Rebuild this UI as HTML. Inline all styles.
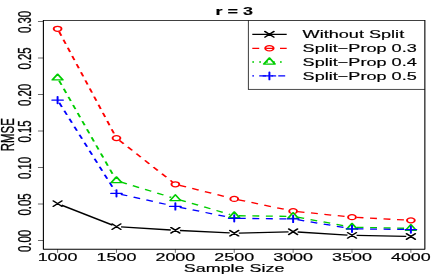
<!DOCTYPE html>
<html><head><meta charset="utf-8"><title>r = 3</title>
<style>
html,body{margin:0;padding:0;background:#fff;}
body{width:436px;height:277px;overflow:hidden;}
svg{display:block;}
text{font-family:"Liberation Sans",sans-serif;font-size:11.4px;fill:#000;stroke:#000;stroke-width:0.18px;}
</style></head><body>
<svg width="436" height="277" viewBox="0 0 436 277">
<defs><filter id="b" x="0" y="0" width="436" height="277" filterUnits="userSpaceOnUse"><feGaussianBlur stdDeviation="0.35"/></filter></defs>
<rect width="436" height="277" fill="#fff"/>
<g filter="url(#b)"><g transform="scale(1.57401,1)">
<line x1="39.07" y1="205.15" x2="71.53" y2="225.11" stroke="#000" stroke-width="1.3"/>
<line x1="76.89" y1="226.91" x2="108.52" y2="230.00" stroke="#000" stroke-width="1.3"/>
<line x1="114.30" y1="230.51" x2="145.93" y2="232.97" stroke="#000" stroke-width="1.3"/>
<line x1="151.72" y1="233.09" x2="183.33" y2="231.85" stroke="#000" stroke-width="1.3"/>
<line x1="189.11" y1="232.02" x2="220.75" y2="235.11" stroke="#000" stroke-width="1.3"/>
<line x1="226.53" y1="235.47" x2="258.14" y2="236.40" stroke="#000" stroke-width="1.3"/>
<path d="M33.86 200.90L39.33 206.37M33.86 206.37L39.33 200.90" stroke="#000" stroke-width="1.25" fill="none" stroke-linecap="round" stroke-linejoin="round"/>
<path d="M71.26 223.89L76.74 229.37M71.26 229.37L76.74 223.89" stroke="#000" stroke-width="1.25" fill="none" stroke-linecap="round" stroke-linejoin="round"/>
<path d="M108.67 227.54L114.15 233.02M108.67 233.02L114.15 227.54" stroke="#000" stroke-width="1.25" fill="none" stroke-linecap="round" stroke-linejoin="round"/>
<path d="M146.08 230.46L151.56 235.94M146.08 235.94L151.56 230.46" stroke="#000" stroke-width="1.25" fill="none" stroke-linecap="round" stroke-linejoin="round"/>
<path d="M183.49 229.00L188.96 234.48M183.49 234.48L188.96 229.00" stroke="#000" stroke-width="1.25" fill="none" stroke-linecap="round" stroke-linejoin="round"/>
<path d="M220.90 232.65L226.37 238.13M220.90 238.13L226.37 232.65" stroke="#000" stroke-width="1.25" fill="none" stroke-linecap="round" stroke-linejoin="round"/>
<path d="M258.30 233.75L263.78 239.22M258.30 239.22L263.78 233.75" stroke="#000" stroke-width="1.25" fill="none" stroke-linecap="round" stroke-linejoin="round"/>
<line x1="37.53" y1="31.54" x2="73.06" y2="135.34" stroke="#ff0000" stroke-width="1.3" stroke-dasharray="4.4 4.2"/>
<line x1="75.83" y1="140.34" x2="109.59" y2="182.04" stroke="#ff0000" stroke-width="1.3" stroke-dasharray="4.4 4.2"/>
<line x1="114.11" y1="185.34" x2="146.12" y2="197.84" stroke="#ff0000" stroke-width="1.3" stroke-dasharray="4.4 4.2"/>
<line x1="151.57" y1="199.79" x2="183.47" y2="210.25" stroke="#ff0000" stroke-width="1.3" stroke-dasharray="4.4 4.2"/>
<line x1="189.09" y1="211.61" x2="220.77" y2="216.68" stroke="#ff0000" stroke-width="1.3" stroke-dasharray="4.4 4.2"/>
<line x1="226.52" y1="217.39" x2="258.15" y2="220.10" stroke="#ff0000" stroke-width="1.3" stroke-dasharray="4.4 4.2"/>
<circle cx="36.59" cy="28.80" r="2.47" stroke="#ff0000" stroke-width="1.25" fill="none"/>
<circle cx="74.00" cy="138.08" r="2.47" stroke="#ff0000" stroke-width="1.25" fill="none"/>
<circle cx="111.41" cy="184.29" r="2.47" stroke="#ff0000" stroke-width="1.25" fill="none"/>
<circle cx="148.82" cy="198.89" r="2.47" stroke="#ff0000" stroke-width="1.25" fill="none"/>
<circle cx="186.23" cy="211.15" r="2.47" stroke="#ff0000" stroke-width="1.25" fill="none"/>
<circle cx="223.63" cy="217.14" r="2.47" stroke="#ff0000" stroke-width="1.25" fill="none"/>
<circle cx="261.04" cy="220.35" r="2.47" stroke="#ff0000" stroke-width="1.25" fill="none"/>
<line x1="37.59" y1="80.73" x2="73.01" y2="177.99" stroke="#00cd00" stroke-width="1.3" stroke-dasharray="4.4 4.2"/>
<line x1="76.62" y1="181.96" x2="108.79" y2="197.35" stroke="#00cd00" stroke-width="1.3" stroke-dasharray="4.4 4.2"/>
<line x1="114.05" y1="199.80" x2="146.18" y2="214.48" stroke="#00cd00" stroke-width="1.3" stroke-dasharray="4.4 4.2"/>
<line x1="151.72" y1="215.74" x2="183.33" y2="216.35" stroke="#00cd00" stroke-width="1.3" stroke-dasharray="4.4 4.2"/>
<line x1="189.01" y1="217.21" x2="220.85" y2="226.41" stroke="#00cd00" stroke-width="1.3" stroke-dasharray="4.4 4.2"/>
<line x1="226.53" y1="227.30" x2="258.14" y2="228.29" stroke="#00cd00" stroke-width="1.3" stroke-dasharray="4.4 4.2"/>
<path d="M36.59 74.15L39.93 79.93L33.26 79.93Z" stroke="#00cd00" stroke-width="1.25" fill="none" stroke-linecap="round" stroke-linejoin="round"/>
<path d="M74.00 176.87L77.34 182.64L70.67 182.64Z" stroke="#00cd00" stroke-width="1.25" fill="none" stroke-linecap="round" stroke-linejoin="round"/>
<path d="M111.41 194.75L114.74 200.52L108.08 200.52Z" stroke="#00cd00" stroke-width="1.25" fill="none" stroke-linecap="round" stroke-linejoin="round"/>
<path d="M148.82 211.83L152.15 217.60L145.48 217.60Z" stroke="#00cd00" stroke-width="1.25" fill="none" stroke-linecap="round" stroke-linejoin="round"/>
<path d="M186.23 212.56L189.56 218.33L182.89 218.33Z" stroke="#00cd00" stroke-width="1.25" fill="none" stroke-linecap="round" stroke-linejoin="round"/>
<path d="M223.63 223.37L226.97 229.14L220.30 229.14Z" stroke="#00cd00" stroke-width="1.25" fill="none" stroke-linecap="round" stroke-linejoin="round"/>
<path d="M261.04 224.53L264.37 230.31L257.71 230.31Z" stroke="#00cd00" stroke-width="1.25" fill="none" stroke-linecap="round" stroke-linejoin="round"/>
<line x1="37.67" y1="102.81" x2="72.92" y2="190.65" stroke="#0000ff" stroke-width="1.3" stroke-dasharray="4.4 4.2"/>
<line x1="76.74" y1="194.30" x2="108.67" y2="205.45" stroke="#0000ff" stroke-width="1.3" stroke-dasharray="4.4 4.2"/>
<line x1="114.17" y1="207.29" x2="146.05" y2="217.43" stroke="#0000ff" stroke-width="1.3" stroke-dasharray="4.4 4.2"/>
<line x1="151.72" y1="218.36" x2="183.33" y2="218.91" stroke="#0000ff" stroke-width="1.3" stroke-dasharray="4.4 4.2"/>
<line x1="189.03" y1="219.70" x2="220.83" y2="228.08" stroke="#0000ff" stroke-width="1.3" stroke-dasharray="4.4 4.2"/>
<line x1="226.53" y1="228.88" x2="258.14" y2="229.49" stroke="#0000ff" stroke-width="1.3" stroke-dasharray="4.4 4.2"/>
<path d="M33.10 100.12L40.09 100.12M36.59 96.62L36.59 103.62" stroke="#0000ff" stroke-width="1.25" fill="none" stroke-linecap="round" stroke-linejoin="round"/>
<path d="M70.50 193.34L77.50 193.34M74.00 189.84L74.00 196.84" stroke="#0000ff" stroke-width="1.25" fill="none" stroke-linecap="round" stroke-linejoin="round"/>
<path d="M107.91 206.41L114.91 206.41M111.41 202.91L111.41 209.91" stroke="#0000ff" stroke-width="1.25" fill="none" stroke-linecap="round" stroke-linejoin="round"/>
<path d="M145.32 218.31L152.32 218.31M148.82 214.81L148.82 221.81" stroke="#0000ff" stroke-width="1.25" fill="none" stroke-linecap="round" stroke-linejoin="round"/>
<path d="M182.73 218.97L189.72 218.97M186.23 215.47L186.23 222.46" stroke="#0000ff" stroke-width="1.25" fill="none" stroke-linecap="round" stroke-linejoin="round"/>
<path d="M220.14 228.82L227.13 228.82M223.63 225.32L223.63 232.32" stroke="#0000ff" stroke-width="1.25" fill="none" stroke-linecap="round" stroke-linejoin="round"/>
<path d="M257.54 229.55L264.54 229.55M261.04 226.05L261.04 233.05" stroke="#0000ff" stroke-width="1.25" fill="none" stroke-linecap="round" stroke-linejoin="round"/>
<text x="36.59" y="261.5" text-anchor="middle">1000</text>
<text x="74.00" y="261.5" text-anchor="middle">1500</text>
<text x="111.41" y="261.5" text-anchor="middle">2000</text>
<text x="148.82" y="261.5" text-anchor="middle">2500</text>
<text x="186.23" y="261.5" text-anchor="middle">3000</text>
<text x="223.63" y="261.5" text-anchor="middle">3500</text>
<text x="261.04" y="261.5" text-anchor="middle">4000</text>
<text transform="translate(19.6,241.00) rotate(-90)" text-anchor="middle">0.00</text>
<text transform="translate(19.6,204.50) rotate(-90)" text-anchor="middle">0.05</text>
<text transform="translate(19.6,168.00) rotate(-90)" text-anchor="middle">0.10</text>
<text transform="translate(19.6,131.50) rotate(-90)" text-anchor="middle">0.15</text>
<text transform="translate(19.6,95.00) rotate(-90)" text-anchor="middle">0.20</text>
<text transform="translate(19.6,58.50) rotate(-90)" text-anchor="middle">0.25</text>
<text transform="translate(19.6,22.00) rotate(-90)" text-anchor="middle">0.30</text>
<text x="148.86" y="14.6" text-anchor="middle" font-weight="bold">r = 3</text>
<text x="148.73" y="271.95" text-anchor="middle">Sample Size</text>
<text transform="translate(8.9,134.7) rotate(-90)" text-anchor="middle">RMSE</text>
<line x1="160.29" y1="34.3" x2="182.15" y2="34.3" stroke="#000" stroke-width="1.3"/>
<path d="M168.34 31.49L173.97 37.11M168.34 37.11L173.97 31.49" stroke="#000" stroke-width="1.25" fill="none" stroke-linecap="round" stroke-linejoin="round"/>
<text x="192.25" y="38.20" style="font-size:11.5px">Without Split</text>
<line x1="160.29" y1="48.3" x2="182.15" y2="48.3" stroke="#ff0000" stroke-width="1.3" stroke-dasharray="4.4 4.4"/>
<circle cx="171.16" cy="48.30" r="2.66" stroke="#ff0000" stroke-width="1.25" fill="none"/>
<text x="192.25" y="52.20" style="font-size:11.5px">Split−Prop 0.3</text>
<line x1="160.29" y1="62.0" x2="182.15" y2="62.0" stroke="#00cd00" stroke-width="1.3" stroke-dasharray="1.1 3.3"/>
<path d="M171.16 57.86L174.74 64.07L167.57 64.07Z" stroke="#00cd00" stroke-width="1.25" fill="none" stroke-linecap="round" stroke-linejoin="round"/>
<text x="192.25" y="65.90" style="font-size:11.5px">Split−Prop 0.4</text>
<line x1="160.29" y1="75.9" x2="182.15" y2="75.9" stroke="#0000ff" stroke-width="1.3" stroke-dasharray="1.1 3.3 4.4 3.3"/>
<path d="M167.39 75.90L174.92 75.90M171.16 72.14L171.16 79.66" stroke="#0000ff" stroke-width="1.25" fill="none" stroke-linecap="round" stroke-linejoin="round"/>
<text x="192.25" y="79.80" style="font-size:11.5px">Split−Prop 0.5</text>
</g></g>
<g transform="scale(1.57401,1)">
<line x1="36.59" y1="249.25" x2="36.59" y2="252.85" stroke="#000" stroke-width="0.45"/>
<line x1="74.00" y1="249.25" x2="74.00" y2="252.85" stroke="#000" stroke-width="0.45"/>
<line x1="111.41" y1="249.25" x2="111.41" y2="252.85" stroke="#000" stroke-width="0.45"/>
<line x1="148.82" y1="249.25" x2="148.82" y2="252.85" stroke="#000" stroke-width="0.45"/>
<line x1="186.23" y1="249.25" x2="186.23" y2="252.85" stroke="#000" stroke-width="0.45"/>
<line x1="223.63" y1="249.25" x2="223.63" y2="252.85" stroke="#000" stroke-width="0.45"/>
<line x1="261.04" y1="249.25" x2="261.04" y2="252.85" stroke="#000" stroke-width="0.45"/>
<line x1="24.12" y1="240.50" x2="27.57" y2="240.50" stroke="#000" stroke-width="0.45"/>
<line x1="24.12" y1="204.00" x2="27.57" y2="204.00" stroke="#000" stroke-width="0.45"/>
<line x1="24.12" y1="167.50" x2="27.57" y2="167.50" stroke="#000" stroke-width="0.45"/>
<line x1="24.12" y1="131.00" x2="27.57" y2="131.00" stroke="#000" stroke-width="0.45"/>
<line x1="24.12" y1="94.50" x2="27.57" y2="94.50" stroke="#000" stroke-width="0.45"/>
<line x1="24.12" y1="58.00" x2="27.57" y2="58.00" stroke="#000" stroke-width="0.45"/>
<line x1="24.12" y1="21.50" x2="27.57" y2="21.50" stroke="#000" stroke-width="0.45"/>
<line x1="27.57" y1="20.099999999999998" x2="27.57" y2="249.6" stroke="#000" stroke-width="0.7"/>
<line x1="269.92" y1="20.099999999999998" x2="269.92" y2="249.6" stroke="#000" stroke-width="0.7"/>
<line x1="27.57" y1="20.45" x2="269.92" y2="20.45" stroke="#000" stroke-width="0.7"/>
<line x1="27.57" y1="249.25" x2="269.92" y2="249.25" stroke="#000" stroke-width="0.85"/>
<line x1="157.81" y1="20.45" x2="157.81" y2="89.75" stroke="#000" stroke-width="0.6"/>
<line x1="157.81" y1="89.45" x2="269.92" y2="89.45" stroke="#000" stroke-width="0.55"/>
</g>
</svg></body></html>
